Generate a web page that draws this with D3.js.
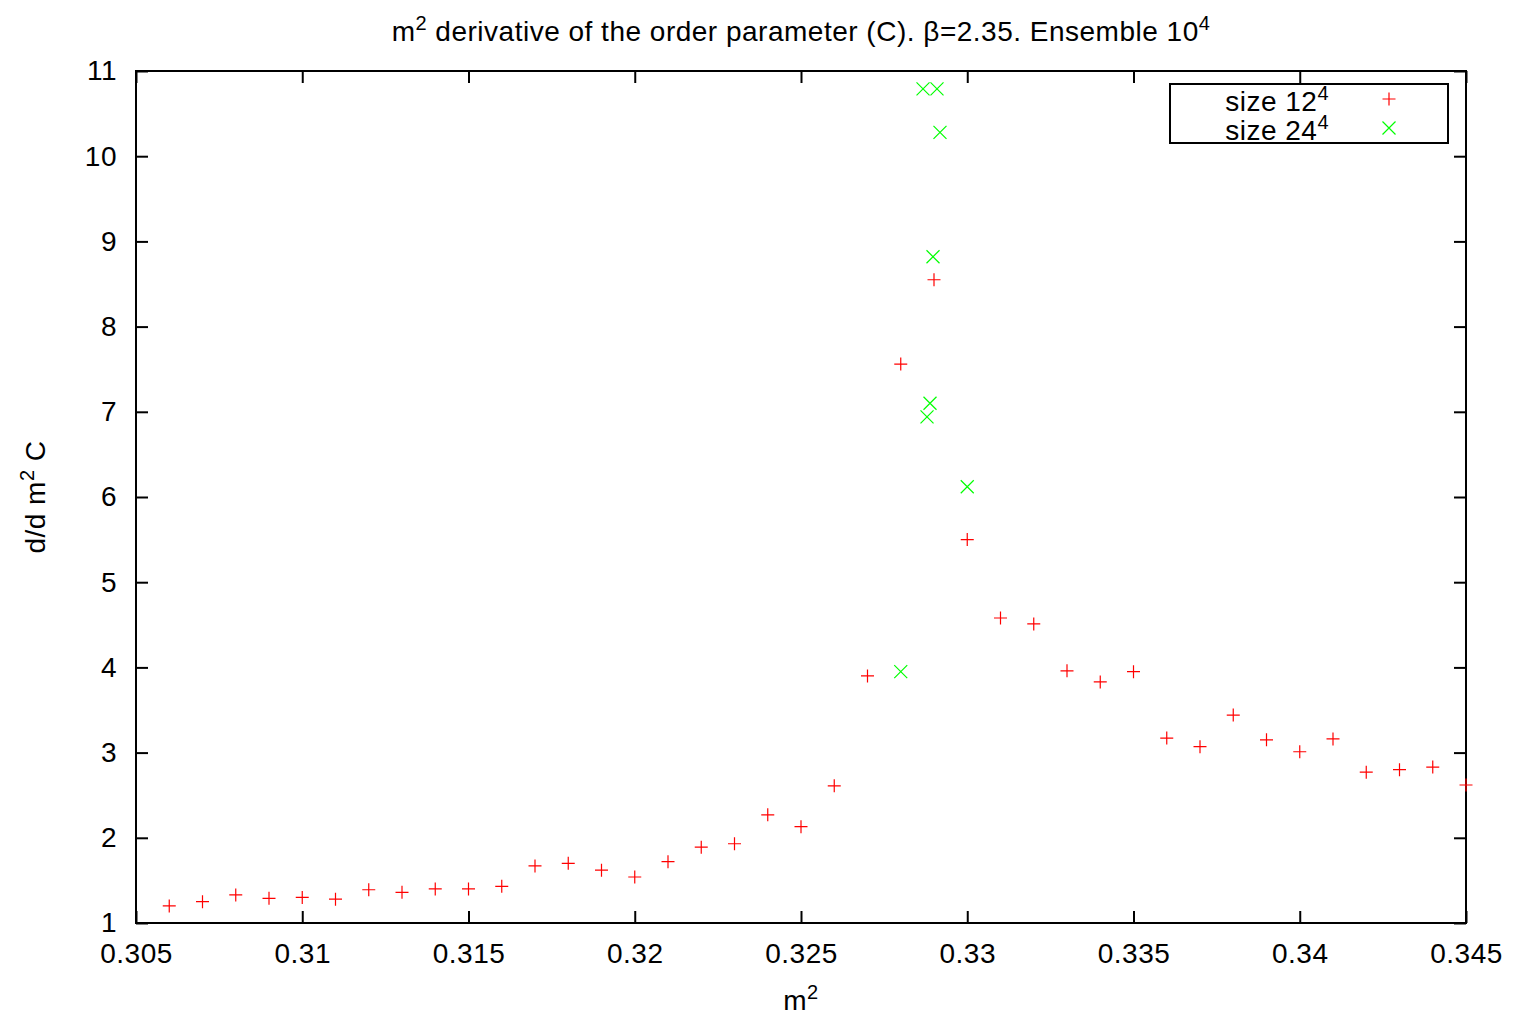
<!DOCTYPE html>
<html>
<head>
<meta charset="utf-8">
<script src="https://cdn.jsdelivr.net/npm/d3@7"></script>
<style>
  body { margin: 0; background: #fff; }
  svg text { font-family: "Liberation Sans", Arial, sans-serif; }
</style>
</head>
<body>
<svg id="chart" width="1517" height="1024"></svg>
<script>
// size 12^4 lattice
var m2_12 = [0.306, 0.307, 0.308, 0.309, 0.310, 0.311, 0.312, 0.313, 0.314, 0.315,
             0.316, 0.317, 0.318, 0.319, 0.320, 0.321, 0.322, 0.323, 0.324, 0.325,
             0.326, 0.327, 0.328, 0.329, 0.330, 0.331, 0.332, 0.333, 0.334, 0.335,
             0.336, 0.337, 0.338, 0.339, 0.340, 0.341, 0.342, 0.343, 0.344, 0.345];
var dC_12 = [1.20, 1.25, 1.33, 1.29, 1.30, 1.28, 1.39, 1.36, 1.40, 1.40,
             1.43, 1.67, 1.70, 1.62, 1.54, 1.72, 1.89, 1.93, 2.27, 2.13,
             2.61, 3.90, 7.56, 8.55, 5.50, 4.58, 4.51, 3.96, 3.83, 3.95,
             3.17, 3.07, 3.44, 3.15, 3.01, 3.16, 2.77, 2.80, 2.83, 2.62];

// size 24^4 lattice
var m2_24 = [0.328, 0.32867, 0.32879, 0.32888, 0.32897, 0.32909, 0.32918, 0.330];
var dC_24 = [3.95, 10.79, 6.94, 7.10, 8.82, 10.79, 10.28, 6.12];

var xTicks = [0.305, 0.31, 0.315, 0.32, 0.325, 0.33, 0.335, 0.34, 0.345];
var yTicks = [1, 2, 3, 4, 5, 6, 7, 8, 9, 10, 11];

var svg = d3.select("#chart"),
    margin = {top: 71, left: 136, bottom: 101, right: 51},
    width = +svg.attr("width"),
    height = +svg.attr("height");

var fs = 28, ls = "0.5px";

var x = d3.scaleLinear()
    .domain([0.305, 0.345])
    .range([margin.left, width - margin.right]);

var y = d3.scaleLinear()
    .domain([1, 11])
    .range([height - margin.bottom, margin.top]);

function styleAxis(g) {
    g.select(".domain").remove();
    g.selectAll(".tick line").attr("stroke", "#000").attr("stroke-width", 2);
    g.selectAll("text")
        .attr("font-family", "Liberation Sans, Arial, sans-serif")
        .attr("font-size", fs)
        .attr("letter-spacing", ls)
        .attr("fill", "#000");
}

// bottom / left axes with labels, ticks pointing inward
svg.append("g")
    .attr("class", "x-axis")
    .attr("transform", `translate(0,${y(1)})`)
    .call(d3.axisBottom(x).tickValues(xTicks).tickSize(-12).tickPadding(20)
        .tickFormat(d => d3.format("")(+d.toFixed(3))))
    .call(styleAxis);

svg.append("g")
    .attr("class", "y-axis")
    .attr("transform", `translate(${x(0.305)},0)`)
    .call(d3.axisLeft(y).tickValues(yTicks).tickSize(-12).tickPadding(19))
    .call(styleAxis);

// mirror ticks on top / right
svg.append("g")
    .attr("transform", `translate(0,${y(11)})`)
    .call(d3.axisTop(x).tickValues(xTicks).tickSize(-12).tickFormat(""))
    .call(styleAxis);

svg.append("g")
    .attr("transform", `translate(${x(0.345)},0)`)
    .call(d3.axisRight(y).tickValues(yTicks).tickSize(-12).tickFormat(""))
    .call(styleAxis);

// frame
svg.append("rect")
    .attr("x", x(0.305))
    .attr("y", y(11))
    .attr("width", x(0.345) - x(0.305))
    .attr("height", y(1) - y(11))
    .attr("fill", "none")
    .attr("stroke", "#000")
    .attr("stroke-width", 2);

// markers
var r = 6.5;
function plus(sel, cx, cy) {
    sel.append("path")
        .attr("d", `M${cx - r},${cy}H${cx + r}M${cx},${cy - r}V${cy + r}`)
        .attr("stroke", "#ff0000").attr("stroke-width", 1.2).attr("fill", "none");
}
function cross(sel, cx, cy) {
    sel.append("path")
        .attr("d", `M${cx - r},${cy - r}L${cx + r},${cy + r}M${cx - r},${cy + r}L${cx + r},${cy - r}`)
        .attr("stroke", "#00ff00").attr("stroke-width", 1.2).attr("fill", "none");
}

var pts = svg.append("g");
m2_12.forEach((m, i) => plus(pts, x(m), y(dC_12[i])));
m2_24.forEach((m, i) => cross(pts, x(m), y(dC_24[i])));

// text with superscripts: the shift is carried by the next real tspan
function supText(g, parts) {
    var back = 0;
    parts.forEach(p => {
        if (p.sup) {
            g.append("tspan").attr("dy", -11 + back).attr("font-size", 20).text(p.sup);
            back = 11;
        } else {
            g.append("tspan").attr("dy", back).text(p.t);
            back = 0;
        }
    });
    return g;
}

// title
var title = svg.append("text")
    .attr("x", (x(0.305) + x(0.345)) / 2)
    .attr("y", 41)
    .attr("text-anchor", "middle")
    .attr("font-size", fs)
    .attr("letter-spacing", ls);
supText(title, [{t: "m"}, {sup: "2"}, {t: " derivative of the order parameter (C). \u03b2=2.35. Ensemble 10"}, {sup: "4"}]);

// x label
var xl = svg.append("text")
    .attr("x", (x(0.305) + x(0.345)) / 2)
    .attr("y", 1010)
    .attr("text-anchor", "middle")
    .attr("font-size", fs)
    .attr("letter-spacing", ls);
supText(xl, [{t: "m"}, {sup: "2"}]);

// y label
var yl = svg.append("text")
    .attr("transform", `translate(45,${(y(1) + y(11)) / 2}) rotate(-90)`)
    .attr("text-anchor", "middle")
    .attr("font-size", fs)
    .attr("letter-spacing", ls);
supText(yl, [{t: "d/d m"}, {sup: "2"}, {t: " C"}]);

// legend
var legend = svg.append("g");
legend.append("rect")
    .attr("x", 1170).attr("y", 84)
    .attr("width", 278).attr("height", 59)
    .attr("fill", "#fff").attr("stroke", "#000").attr("stroke-width", 2);

var legendNames = ["size 12", "size 24"];
legendNames.forEach((name, i) => {
    var t = legend.append("text")
        .attr("x", 1329)
        .attr("y", 111 + i * 29)
        .attr("text-anchor", "end")
        .attr("font-size", fs)
        .attr("letter-spacing", ls);
    supText(t, [{t: name}, {sup: "4"}]);
    if (i === 0) plus(legend, 1389, 99);
    else cross(legend, 1389, 128);
});
</script>
</body>
</html>
